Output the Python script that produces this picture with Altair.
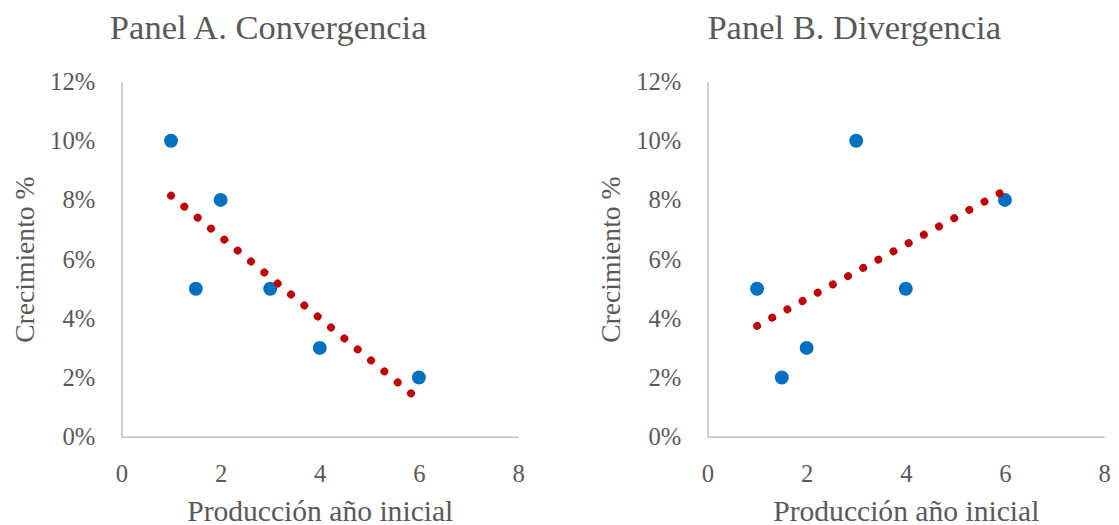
import altair as alt
import pandas as pd

# Data
x_a = [1, 1.5, 2, 3, 4, 6]
y_a = [0.10, 0.05, 0.08, 0.05, 0.03, 0.02]
x_b = [1, 1.5, 2, 3, 4, 6]
y_b = [0.05, 0.02, 0.03, 0.10, 0.05, 0.08]
x_ticks = [0, 2, 4, 6, 8]
y_ticks = [0, 0.02, 0.04, 0.06, 0.08, 0.10, 0.12]
panel_titles = ["Panel A. Convergencia", "Panel B. Divergencia"]
x_title = "Producción año inicial"
y_title = "Crecimiento %"

FONT = "Liberation Serif"
GRAY = "#595959"
BLUE = "#0070C0"
RED = "#C00000"
AXIS = "#BFBFBF"


def panel(xs, ys, title):
    df = pd.DataFrame({"x": xs, "y": ys})
    x_enc = alt.X(
        "x:Q",
        scale=alt.Scale(domain=[0, 8], nice=False, zero=False),
        axis=alt.Axis(
            values=x_ticks, format="d", title=x_title, grid=False, ticks=False, tickSize=0,
            labelFlush=False,
            domainColor=AXIS, domainWidth=1.5, labelFont=FONT, labelFontSize=25,
            labelColor=GRAY, labelPadding=25, titleFont=FONT, titleFontSize=30,
            titleFontWeight="normal", titleColor=GRAY, titlePadding=11,
        ),
    )
    y_enc = alt.Y(
        "y:Q",
        scale=alt.Scale(domain=[0, 0.12], nice=False, zero=False),
        axis=alt.Axis(
            values=y_ticks, format=".0%", title=y_title, grid=False, ticks=False, tickSize=0,
            labelFlush=False,
            domainColor=AXIS, domainWidth=1.5, labelFont=FONT, labelFontSize=25,
            labelColor=GRAY, labelPadding=27, titleFont=FONT, titleFontSize=28,
            titleFontWeight="normal", titleColor=GRAY, titlePadding=10,
        ),
    )
    base = alt.Chart(df)
    pts = base.mark_circle(size=200, color=BLUE, opacity=1).encode(x=x_enc, y=y_enc)
    trend = (
        base.transform_regression("x", "y", extent=[1, 6])
        .mark_line(color=RED, strokeWidth=8, strokeCap="round", strokeDash=[0.01, 17.5])
        .encode(x="x:Q", y="y:Q")
    )
    return alt.layer(pts, trend).properties(
        width=402,
        height=360,
        title=alt.TitleParams(
            title, font=FONT, fontSize=35, fontWeight="normal", color=GRAY,
            offset=24, frame="bounds", anchor="middle",
        ),
    )


chart = (
    alt.hconcat(panel(x_a, y_a, panel_titles[0]), panel(x_b, y_b, panel_titles[1]), spacing=74)
    .configure_view(stroke=None)
    .properties(padding={"left": 4, "top": 0, "right": 0, "bottom": 0})
)

chart.save("out.html", embed_options={"renderer": "svg", "actions": False})
